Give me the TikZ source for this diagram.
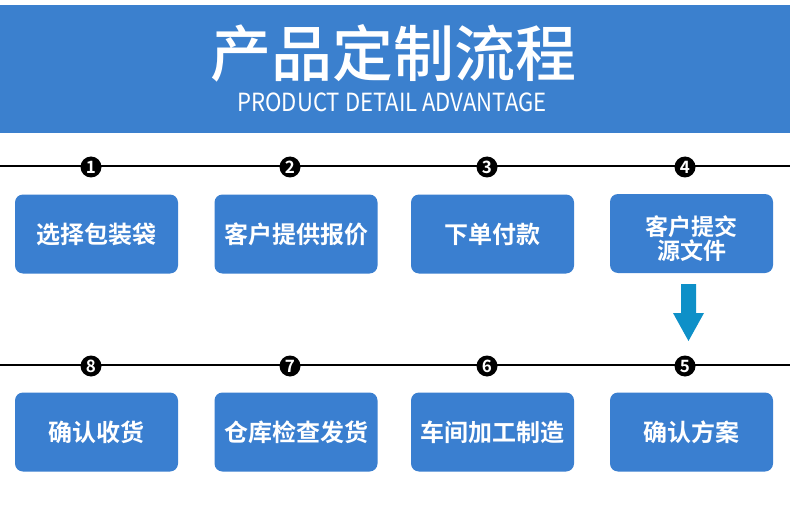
\documentclass[tikz,border=0pt]{standalone}
\usepackage{fontspec}
\setmainfont{Noto Sans CJK SC}
\newfontfamily\cjkb{Noto Sans CJK SC Bold}
\newfontfamily\cjkm{Noto Sans CJK SC Medium}
\definecolor{hdrblue}{HTML}{3B80CE}
\definecolor{boxblue}{HTML}{3A7FD0}
\definecolor{arrowblue}{HTML}{0E90C8}
\tikzset{
  stepbox/.style={fill=boxblue, rounded corners=8pt, minimum width=163pt, minimum height=79pt, inner sep=0pt, text=white, font=\cjkb\fontsize{24}{24}\selectfont, align=center},
  boxlabel/.style={text=white, font=\cjkb\fontsize{23}{23.5}\selectfont, align=center, inner sep=0pt},
  numdot/.style={circle, fill=black, minimum size=21pt, inner sep=0pt, text=white, font=\cjkb\fontsize{17}{17}\selectfont},
  track/.style={line width=2pt, black}
}
\begin{document}
\begin{tikzpicture}[x=1pt,y=-1pt]
\useasboundingbox (0,0) rectangle (790,532);
\fill[white] (0,0) rectangle (790,532);
\fill[hdrblue] (0,5) rectangle (790,133);
\node[text=white, font=\cjkm\fontsize{61}{61}\selectfont, inner sep=0pt] (title) at (393,53) {产品定制流程};
\node[text=white, font=\fontsize{25}{25}\selectfont, inner sep=0pt] (sub) at (392,102) {\scalebox{0.885}[1]{PRODUCT DETAIL ADVANTAGE}};
% tracks
\coordinate (l1a) at (0,166); \coordinate (l1b) at (790,166);
\coordinate (l2a) at (0,365); \coordinate (l2b) at (790,365);
\draw[track] (l1a) -- (l1b);
\draw[track] (l2a) -- (l2b);
% number dots
\node[numdot] (n1) at (91,167) {1};
\node[numdot] (n2) at (290,167) {2};
\node[numdot] (n3) at (487,167) {3};
\node[numdot] (n4) at (685,167) {4};
\node[numdot] (n8) at (91,366) {8};
\node[numdot] (n7) at (290,366) {7};
\node[numdot] (n6) at (487,366) {6};
\node[numdot] (n5) at (685,366) {5};
% boxes
\node[stepbox] (b1) at (96.5,234) {选择包装袋};
\node[stepbox] (b2) at (296,234) {客户提供报价};
\node[stepbox] (b3) at (492.5,234) {下单付款};
\node[stepbox, label={[boxlabel, yshift=-5pt]center:{客户提交\\源文件}}] (b4) at (691.5,233.5) {};
\node[stepbox] (b8) at (96.5,432) {确认收货};
\node[stepbox] (b7) at (296,432) {仓库检查发货};
\node[stepbox] (b6) at (492.5,432) {车间加工制造};
\node[stepbox] (b5) at (691.5,432) {确认方案};
% arrow
\fill[arrowblue] (681,284) -- (696,284) -- (696,313) -- (704,313) -- (688.5,341) -- (673,313) -- (681,313) -- cycle;
\end{tikzpicture}
\end{document}
